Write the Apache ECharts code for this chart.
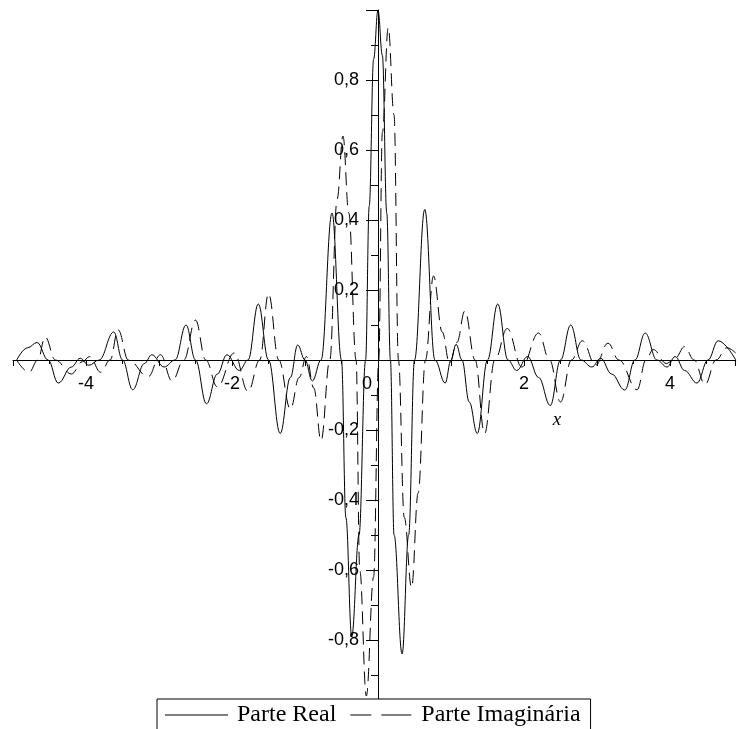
<!DOCTYPE html>
<html>
<head>
<meta charset="utf-8">
<script src="https://cdn.jsdelivr.net/npm/echarts@6/dist/echarts.min.js"></script>
<style>
  html, body { margin: 0; padding: 0; background: #fff; }
  #main { width: 738px; height: 729px; }
</style>
</head>
<body>
<div id="main"></div>
<script>
// valores (Parte Real = linha cheia, Parte Imaginária = tracejada)
var realX = [-4.95, -4.8, -4.67, -4.52, -4.38, -4.2, -4.08, -3.96, -3.82, -3.62, -3.5, -3.36, -3.2, -3.1,
  -2.93, -2.78, -2.63, -2.5, -2.35, -2.2, -2.07, -1.9, -1.78, -1.64, -1.5, -1.34, -1.2, -1.1, -1.0,
  -0.9, -0.78, -0.63, -0.5, -0.44, -0.36, -0.26, -0.17, -0.12, -0.06, 0,
  0.06, 0.12, 0.17, 0.22, 0.33, 0.42, 0.5, 0.64, 0.78, 0.92, 1.0, 1.07, 1.15, 1.25, 1.36, 1.5,
  1.64, 1.78, 1.9, 2.05, 2.2, 2.36, 2.5, 2.64, 2.78, 2.93, 3.05, 3.2, 3.38, 3.52, 3.66, 3.82,
  3.96, 4.07, 4.2, 4.37, 4.52, 4.66, 4.9];
var realY = [0, 0.035, 0.05, 0, -0.066, -0.02, 0.005, -0.015, 0, 0.08, 0, -0.085, -0.01, 0.015,
  -0.02, 0, 0.1, 0, -0.125, -0.04, 0.015, -0.03, 0, 0.16, 0, -0.21, -0.05, 0.043, 0,
  -0.06, 0, 0.42, 0, -0.45, -0.79, -0.5, 0, 0.44, 0.86, 1.0,
  0.87, 0.42, 0, -0.5, -0.84, -0.5, 0, 0.43, 0, -0.066, 0, 0.045, 0, -0.12, -0.21, 0,
  0.16, 0, -0.03, 0.01, -0.05, -0.13, 0, 0.1, 0, -0.02, 0.005, -0.04, -0.086, 0, 0.077, 0,
  -0.02, 0.01, -0.03, -0.066, 0, 0.055, 0];

var imagX = [-4.95, -4.78, -4.66, -4.56, -4.42, -4.2, -4.05, -3.95, -3.8, -3.67, -3.56, -3.42, -3.15,
  -2.98, -2.82, -2.66, -2.5, -2.36, -2.2, -1.97, -1.78, -1.62, -1.5, -1.36, -1.2, -1.08, -0.98,
  -0.88, -0.78, -0.66, -0.56, -0.48, -0.4, -0.3, -0.25, -0.16, -0.06, 0.01,
  0.06, 0.14, 0.22, 0.28, 0.36, 0.46, 0.55, 0.65, 0.76, 0.88, 0.98, 1.08, 1.19, 1.33, 1.46,
  1.6, 1.77, 1.97, 2.2, 2.35, 2.5, 2.65, 2.8, 2.98, 3.15, 3.3, 3.55, 3.67, 3.77, 3.95, 4.07,
  4.2, 4.33, 4.48, 4.63, 4.78, 4.9];
var imagY = [0, -0.035, 0, 0.066, 0, -0.04, -0.005, 0.01, -0.035, 0, 0.086, 0, -0.048,
  0.015, -0.06, 0, 0.114, 0, -0.077, 0.02, -0.09, 0, 0.19, 0, -0.14, -0.05, 0.01,
  -0.08, -0.23, 0, 0.46, 0.64, 0.42, 0, -0.6, -0.96, -0.62, 0,
  0.65, 0.95, 0.7, 0, -0.45, -0.65, -0.38, 0, 0.24, 0.08, -0.01, 0.05, 0.14, 0, -0.21,
  0, 0.09, -0.02, 0.077, 0, -0.12, 0, 0.055, -0.015, 0.048, 0, -0.085, 0, 0.03, -0.01, 0.005,
  0.038, 0, -0.07, 0, 0.035, 0.02];

var xLabels = [-4, -2, 2, 4];
var yLabels = [-0.8, -0.6, -0.4, -0.2, 0.2, 0.4, 0.6, 0.8];

function pairs(xs, ys) {
  var out = [];
  for (var i = 0; i < xs.length; i++) out.push([xs[i], ys[i]]);
  return out;
}

var chart = echarts.init(document.getElementById('main'), null, { renderer: 'canvas' });
var tickFont = '18px "Liberation Sans"';

chart.setOption({
  animation: false,
  backgroundColor: '#fff',
  grid: { left: 13, right: 2.3, top: 10, bottom: 19, outerBoundsMode: 'none', containLabel: false },
  xAxis: {
    type: 'value',
    min: -5, max: 4.9, interval: 1,
    axisLine: { onZero: true, lineStyle: { color: '#000', width: 1 } },
    axisTick: { show: true, length: 6, lineStyle: { color: '#000' } },
    minorTick: { show: true, splitNumber: 2, length: 4, lineStyle: { color: '#000' } },
    splitLine: { show: false },
    axisLabel: { show: false }
  },
  yAxis: {
    type: 'value',
    min: -1, max: 1, interval: 0.2,
    axisLine: { onZero: true, lineStyle: { color: '#000', width: 1 } },
    axisTick: { show: true, length: 12, lineStyle: { color: '#000' } },
    minorTick: { show: true, splitNumber: 2, length: 7, lineStyle: { color: '#000' } },
    splitLine: { show: false },
    axisLabel: { show: false }
  },
  legend: {
    data: [
      { name: 'Parte Real', icon: 'path://M0,0h63v1h-63z' },
      { name: 'Parte Imaginária', icon: 'path://M0,0h21v1h-21z M31,0h30v1h-30z' }
    ],
    left: 157, top: 699,
    padding: [4, 10, 10, 8],
    itemWidth: 63, itemHeight: 1, itemGap: 14,
    itemStyle: { color: '#000', borderWidth: 0 },
    backgroundColor: '#fff',
    borderColor: '#000', borderWidth: 1, borderRadius: 0,
    z: 10,
    textStyle: { color: '#000', fontFamily: 'Liberation Serif', fontSize: 24, padding: [0, 0, 0, 4] }
  },
  series: [
    {
      name: 'Parte Real', type: 'line', data: pairs(realX, realY),
      symbol: 'none', smooth: 0.4, smoothMonotone: 'x',
      lineStyle: { color: '#000', width: 1, type: 'solid' },
      itemStyle: { color: '#000' }
    },
    {
      name: 'Parte Imaginária', type: 'line', data: pairs(imagX, imagY),
      symbol: 'none', smooth: 0.4, smoothMonotone: 'x',
      lineStyle: { color: '#000', width: 1, type: [13, 7] },
      itemStyle: { color: '#000' }
    }
  ]
});

// rótulos dos eixos colocados junto aos eixos que passam pela origem
var texts = [];
xLabels.forEach(function (v) {
  var p = chart.convertToPixel({ gridIndex: 0 }, [v, 0]);
  texts.push({ type: 'text', x: p[0], y: p[1] + 15, z: 20,
    style: { text: String(v), fill: '#000', font: tickFont, align: 'center', verticalAlign: 'top' } });
});
yLabels.forEach(function (v) {
  var p = chart.convertToPixel({ gridIndex: 0 }, [0, v]);
  texts.push({ type: 'text', x: p[0] - 19, y: p[1], z: 20,
    style: { text: v.toFixed(1).replace('.', ','), fill: '#000', font: tickFont, align: 'right', verticalAlign: 'middle' } });
});
var o = chart.convertToPixel({ gridIndex: 0 }, [0, 0]);
texts.push({ type: 'text', x: o[0] - 11, y: o[1] + 24, z: 20,
  style: { text: '0', fill: '#000', font: tickFont, align: 'center', verticalAlign: 'middle' } });
var xn = chart.convertToPixel({ gridIndex: 0 }, [2.45, -0.17]);
texts.push({ type: 'text', x: xn[0], y: xn[1], z: 20,
  style: { text: 'x', fill: '#000', font: 'italic 19px "Liberation Serif"', align: 'center', verticalAlign: 'middle' } });
chart.setOption({ graphic: texts });
</script>
</body>
</html>
